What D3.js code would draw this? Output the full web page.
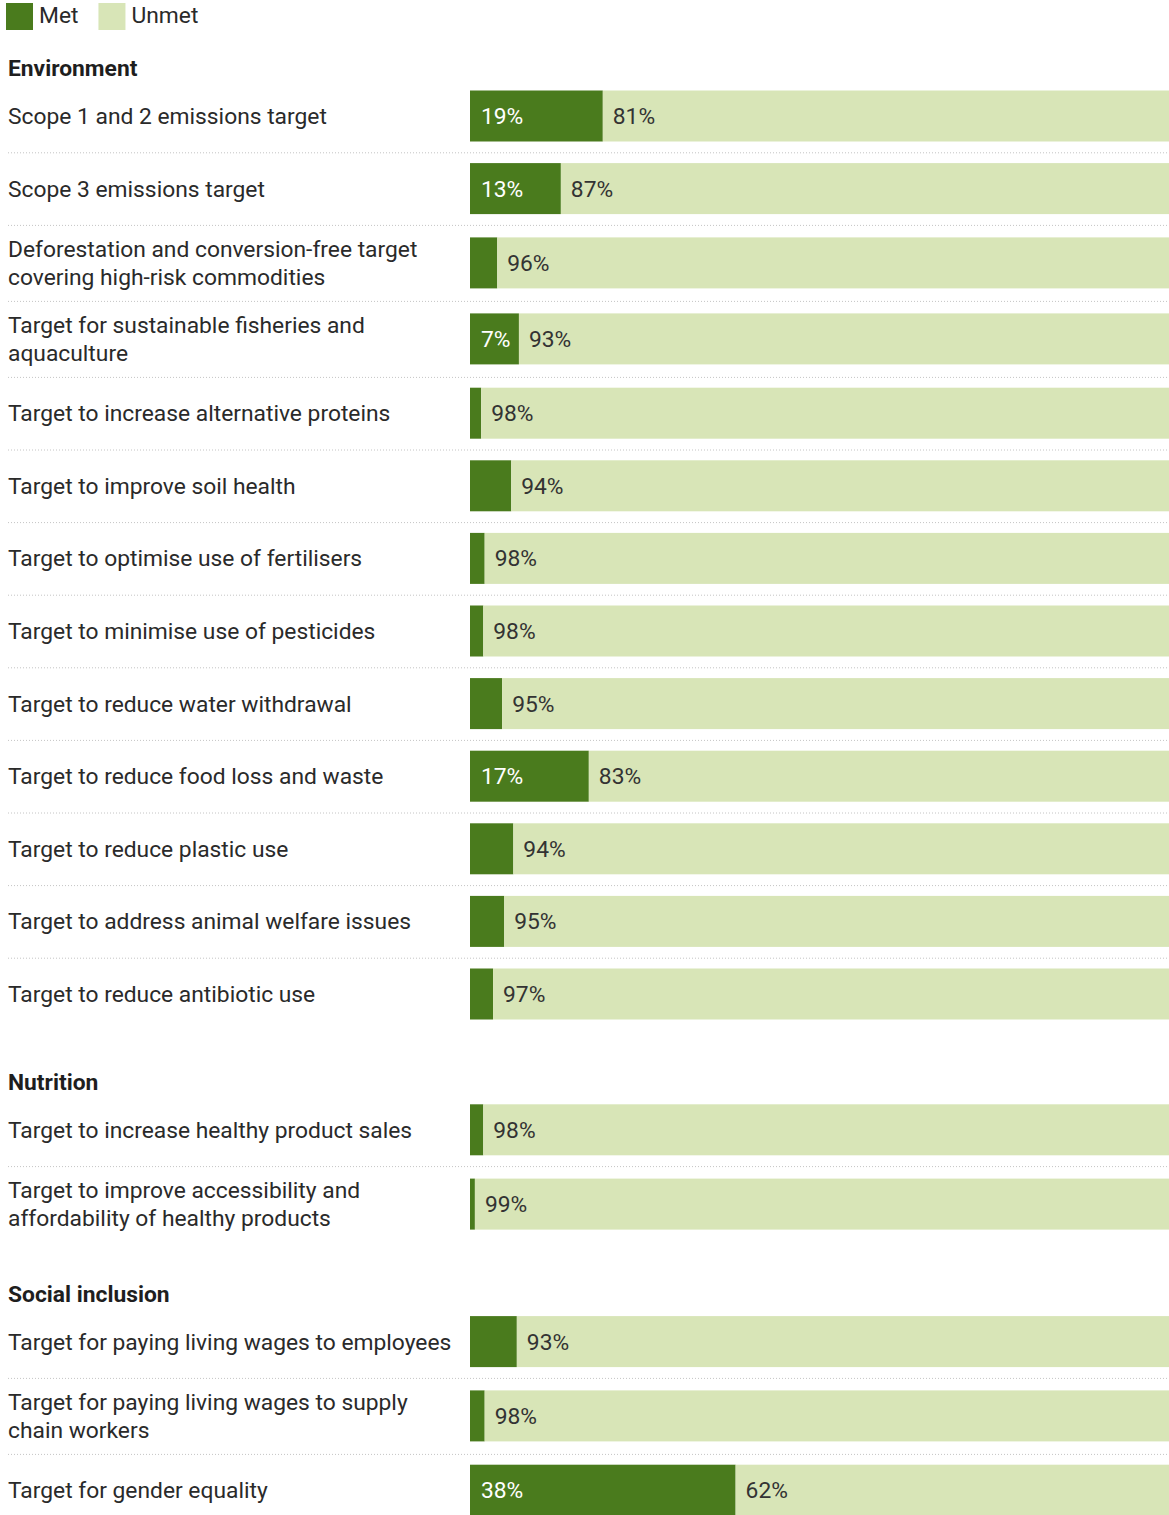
<!DOCTYPE html>
<html>
<head>
<meta charset="utf-8">
<script src="https://cdn.jsdelivr.net/npm/d3@7"></script>
<style>
  html, body { margin: 0; padding: 0; background: #fff; }
  svg { display: block; font-family: Roboto, "Noto Sans", sans-serif; }
</style>
</head>
<body>
<svg id="chart" width="1169" height="1515"></svg>
<script>
// Share of companies with each target: met vs unmet (%)
const groups = ["Environment", "Nutrition", "Social inclusion"];
const categories = [
  "Scope 1 and 2 emissions target",
  "Scope 3 emissions target",
  "Deforestation and conversion-free target covering high-risk commodities",
  "Target for sustainable fisheries and aquaculture",
  "Target to increase alternative proteins",
  "Target to improve soil health",
  "Target to optimise use of fertilisers",
  "Target to minimise use of pesticides",
  "Target to reduce water withdrawal",
  "Target to reduce food loss and waste",
  "Target to reduce plastic use",
  "Target to address animal welfare issues",
  "Target to reduce antibiotic use",
  "Target to increase healthy product sales",
  "Target to improve accessibility and affordability of healthy products",
  "Target for paying living wages to employees",
  "Target for paying living wages to supply chain workers",
  "Target for gender equality"
];
const categoryGroup = [0,0,0,0,0,0,0,0,0,0,0,0,0,1,1,2,2,2];
const met   = [19, 13, 3.9, 7, 1.6, 5.9, 2.1, 1.9, 4.6, 17, 6.2, 4.9, 3.3, 1.9, 0.7, 6.7, 2.1, 38];
const unmet = [81, 87, 96.1, 93, 98.4, 94.1, 97.9, 98.1, 95.4, 83, 93.8, 95.1, 96.7, 98.1, 99.3, 93.3, 97.9, 62];
const seriesNames = ["Met", "Unmet"];

const colors = { Met: "#4a7b1d", Unmet: "#d8e5b7" };
const textColor = "#2a2a2a";
const fontSize = 22.8;
const labelMaxWidth = 452;
const barLeft = 470, barRight = 1169, barHeight = 51;
const rowHeightSingle = 72.6, rowHeightDouble = 76;
const lineGap = 28.5;
const metLabelMin = 7;

const svg = d3.select("#chart");
const x = d3.scaleLinear().domain([0, 100]).range([barLeft, barRight]);
const fmt = v => d3.format(".0f")(v) + "%";

// Legend
const legend = svg.append("g").attr("class", "legend");
let lx = 6;
seriesNames.forEach(name => {
  legend.append("rect").attr("x", lx).attr("y", 3).attr("width", 27).attr("height", 27)
    .attr("fill", colors[name]);
  const t = legend.append("text").attr("x", lx + 33).attr("y", 15).attr("dy", "0.35em")
    .attr("font-size", fontSize).attr("fill", textColor).text(name);
  lx += 33 + t.node().getComputedTextLength() + 20;
});

// Split a label into lines that fit the label column
const measurer = svg.append("text").attr("font-size", fontSize).attr("visibility", "hidden");
function wrap(str) {
  const words = str.split(" ");
  const lines = [];
  let cur = "";
  words.forEach(w => {
    const test = cur ? cur + " " + w : w;
    measurer.text(test);
    if (measurer.node().getComputedTextLength() > labelMaxWidth && cur) {
      lines.push(cur);
      cur = w;
    } else {
      cur = test;
    }
  });
  if (cur) lines.push(cur);
  return lines;
}

// Vertical layout: group headers followed by their rows
const rows = [];
let y = 68;          // centre of first group header
groups.forEach((g, gi) => {
  const hdrY = y;
  svg.append("text").attr("x", 8).attr("y", hdrY).attr("dy", "0.35em")
    .attr("font-size", fontSize).attr("font-weight", 700).attr("fill", "#1e1e1e").text(g);
  let top = hdrY + 11.7;
  const idx = categories.map((c, i) => i).filter(i => categoryGroup[i] === gi);
  idx.forEach((i, k) => {
    const lines = wrap(categories[i]);
    const h = lines.length > 1 ? rowHeightDouble : rowHeightSingle;
    rows.push({ i, lines, top, h, cy: top + h / 2, last: k === idx.length - 1 });
    top += h;
  });
  y = top + 51.5;
});
measurer.remove();

const row = svg.selectAll("g.row").data(rows).join("g").attr("class", "row");

// Dotted separators between rows of a group
row.filter(d => !d.last).append("line")
  .attr("x1", 8).attr("x2", barRight)
  .attr("y1", d => d.top + d.h + 0.5).attr("y2", d => d.top + d.h + 0.5)
  .attr("stroke", "#c4c4c4").attr("stroke-width", 1).attr("stroke-dasharray", "1,2");

// Category labels
row.append("text")
  .attr("x", 8)
  .attr("font-size", fontSize).attr("fill", textColor)
  .each(function(d) {
    const t = d3.select(this);
    const n = d.lines.length;
    d.lines.forEach((ln, j) => {
      t.append("tspan").attr("x", 8)
        .attr("y", d.cy + (j - (n - 1) / 2) * lineGap)
        .attr("dy", "0.35em").text(ln);
    });
  });

// Stacked bars
row.append("rect").attr("class", "met")
  .attr("x", x(0)).attr("y", d => d.cy - barHeight / 2)
  .attr("width", d => x(met[d.i]) - x(0)).attr("height", barHeight)
  .attr("fill", colors.Met);
row.append("rect").attr("class", "unmet")
  .attr("x", d => x(met[d.i])).attr("y", d => d.cy - barHeight / 2)
  .attr("width", d => x(met[d.i] + unmet[d.i]) - x(met[d.i])).attr("height", barHeight)
  .attr("fill", colors.Unmet);

// Value labels
row.filter(d => met[d.i] >= metLabelMin).append("text")
  .attr("x", x(0) + 11).attr("y", d => d.cy).attr("dy", "0.35em")
  .attr("font-size", fontSize).attr("fill", "#ffffff")
  .text(d => fmt(met[d.i]));
row.append("text")
  .attr("x", d => x(met[d.i]) + 10).attr("y", d => d.cy).attr("dy", "0.35em")
  .attr("font-size", fontSize).attr("fill", "#333333")
  .text(d => fmt(unmet[d.i]));
</script>
</body>
</html>
